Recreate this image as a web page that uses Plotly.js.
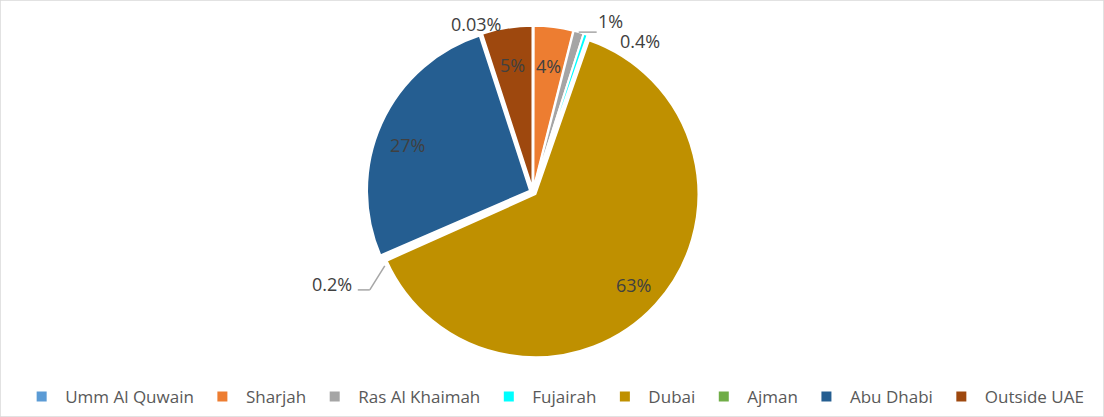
<!DOCTYPE html>
<html><head><meta charset="utf-8">
<script src="https://cdn.plot.ly/plotly-3.0.1.min.js"></script>
<style>html,body{margin:0;padding:0;background:#fff}#chart{width:1104px;height:417px}</style>
</head><body><div id="chart"></div>
<script>
const categories = ["Umm Al Quwain","Sharjah","Ras Al Khaimah","Fujairah","Dubai","Ajman","Abu Dhabi","Outside UAE"];
const values = [0.03, 3.9, 1.0, 0.4, 63.0, 0.2, 26.5, 5.0];
const valueLabels = ["0.03%","4%","1%","0.4%","63%","0.2%","27%","5%"];
const colors = ["#5b9bd5","#ed7d31","#a5a5a5","#00ffff","#bf9000","#70ad47","#255e91","#9e480e"];

// ---- geometry (layout only) ----
const W = 1104, H = 417;
const cx = 533, cy = 192, R = 163, pull = 0.02;
const half = R * (1 + pull);
const labelFont = {family: "Open Sans, sans-serif", size: 18, color: "#404040"};
const labelStyle = [
  {mode: "out", dx: -57, dy: -2},                   // Umm Al Quwain
  {mode: "in", rf: 0.76},                           // Sharjah
  {mode: "out", dx: 32, dy: -11, leader: [[0,0],[18,0]]}, // Ras Al Khaimah
  {mode: "out", dx: 54, dy: 7},                     // Fujairah
  {mode: "in", rf: 0.82},                           // Dubai
  {mode: "out", dx: -49, dy: 25, leader: [[4,7],[-11,31],[-23,31]]}, // Ajman
  {mode: "in", rf: 0.80, da: -3.8},                 // Abu Dhabi
  {mode: "in", rf: 0.77}                            // Outside UAE
];

const total = values.reduce((a, b) => a + b, 0);
let cum = 0;
const annotations = [], shapes = [];
const px = x => x / W, py = y => 1 - y / H;
values.forEach((v, i) => {
  const a0 = cum / total * 360, a1 = (cum + v) / total * 360;
  cum += v;
  const s = labelStyle[i];
  const mid = ((a0 + a1) / 2 + (s.da || 0)) * Math.PI / 180;
  const ux = Math.sin(mid), uy = -Math.cos(mid);
  let tx, ty;
  if (s.mode === "in") {
    const r = s.rf * R + pull * R;
    tx = cx + ux * r; ty = cy + uy * r;
  } else {
    const ax = cx + ux * (R + pull * R), ay = cy + uy * (R + pull * R);
    tx = ax + s.dx; ty = ay + s.dy;
    if (s.leader) {
      for (let k = 0; k < s.leader.length - 1; k++) {
        shapes.push({type: "line", xref: "paper", yref: "paper",
          x0: px(ax + s.leader[k][0]), y0: py(ay + s.leader[k][1]),
          x1: px(ax + s.leader[k+1][0]), y1: py(ay + s.leader[k+1][1]),
          line: {color: "#a6a6a6", width: 1.5}});
      }
    }
  }
  annotations.push({xref: "paper", yref: "paper", x: px(tx), y: py(ty),
    xanchor: "center", yanchor: "middle", showarrow: false, height: 18,
    text: valueLabels[i], font: labelFont});
});

shapes.push({type: "rect", xref: "paper", yref: "paper", x0: 0, x1: 1, y0: 0, y1: 1,
  line: {color: "#d9d9d9", width: 1.5}});

const trace = {
  type: "pie",
  labels: categories,
  values: values,
  textinfo: "none",
  sort: false,
  direction: "clockwise",
  rotation: 0,
  pull: pull,
  marker: {colors: colors, line: {color: "#ffffff", width: 2}},
  domain: {x: [(cx - half) / W, (cx + half) / W], y: [1 - (cy + half) / H, 1 - (cy - half) / H]},
  hoverinfo: "label+percent"
};
const layout = {
  width: W, height: H,
  margin: {l: 0, r: 0, t: 0, b: 0},
  paper_bgcolor: "#ffffff",
  showlegend: true,
  legend: {orientation: "h", x: 0.5015, xanchor: "center", y: 0.005, yanchor: "bottom",
    font: {family: "Open Sans, sans-serif", size: 17, color: "#595959"}, itemwidth: 37},
  annotations: annotations,
  shapes: shapes
};
Plotly.newPlot("chart", [trace], layout, {displayModeBar: false, staticPlot: true});
</script></body></html>
